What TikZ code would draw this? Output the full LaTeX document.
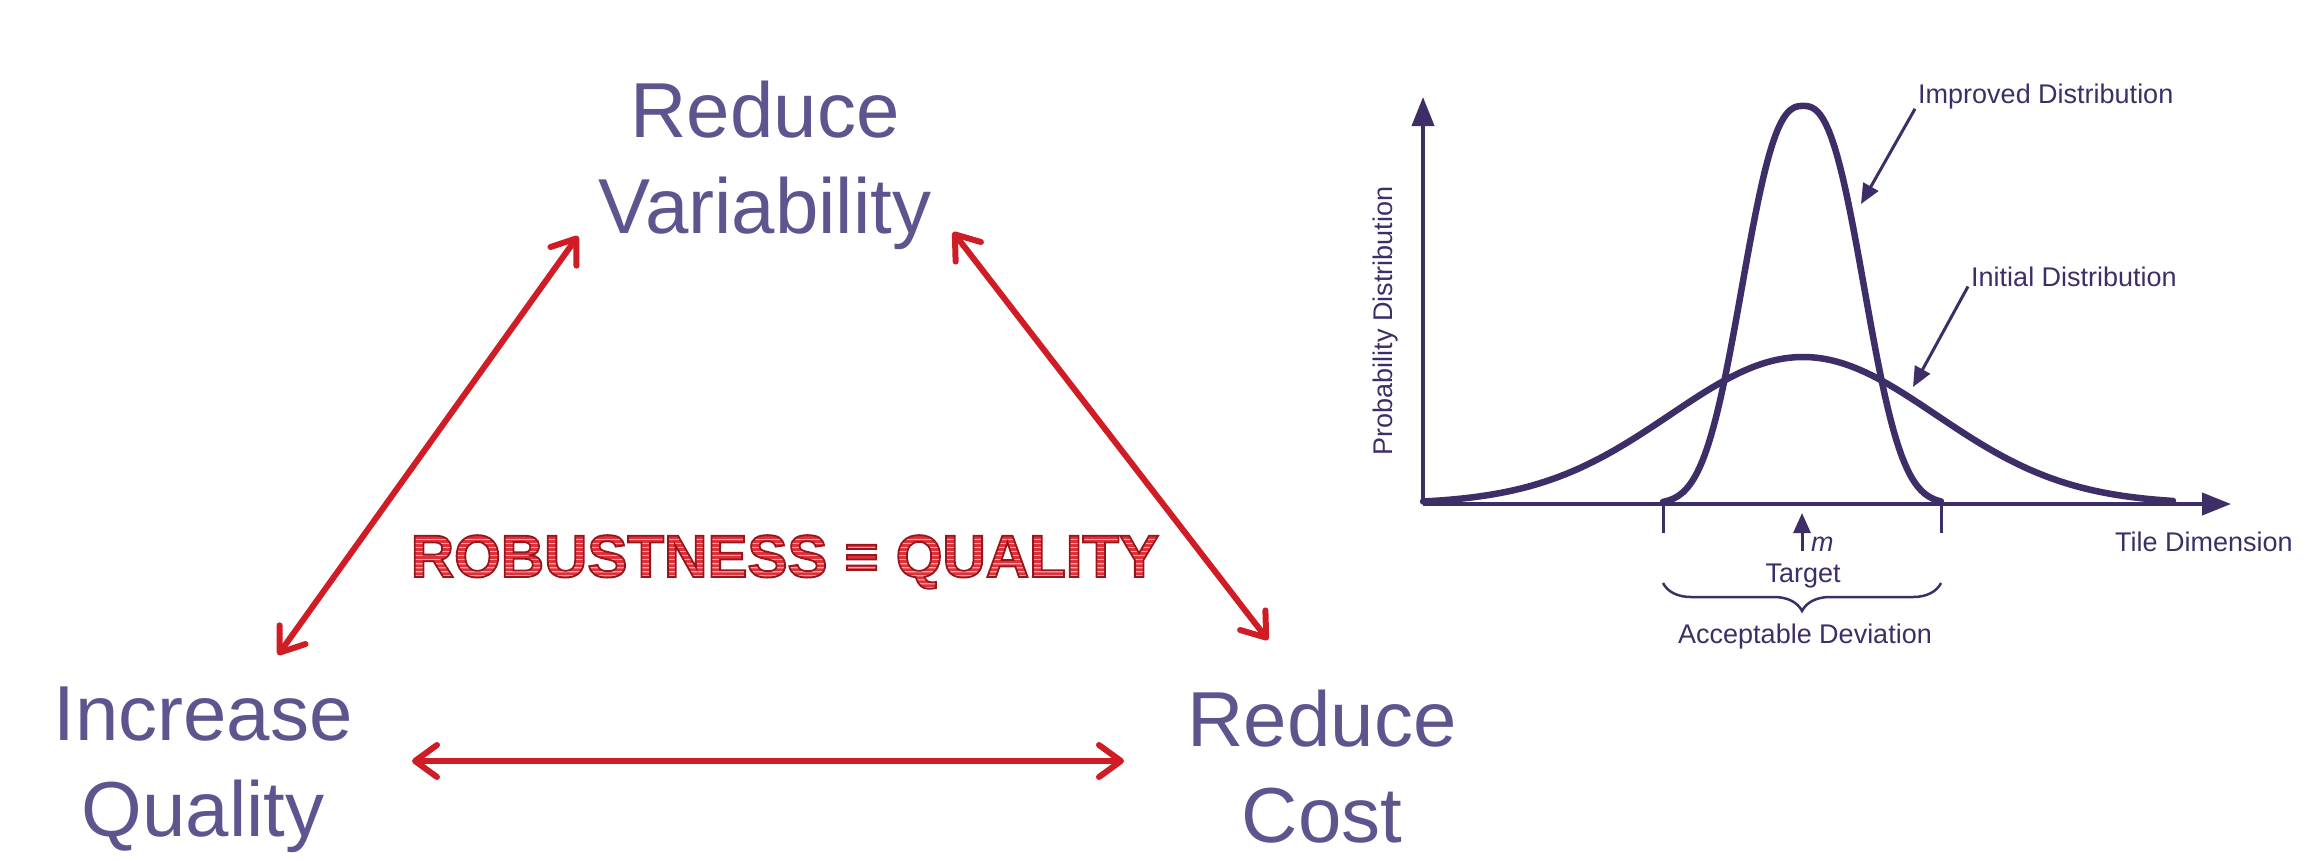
\documentclass[tikz,border=0pt]{standalone}
\usepackage{fontspec}
\setmainfont{Liberation Sans}
\usetikzlibrary{arrows.meta,decorations.pathreplacing}
\definecolor{lblpurple}{RGB}{95,84,142}
\definecolor{arrred}{RGB}{208,28,36}
\definecolor{ink}{RGB}{62,46,104}
\definecolor{rimred}{RGB}{150,22,30}
\newcommand{\robfont}{\fontsize{60}{60}\selectfont\bfseries}
\newcommand{\robtext}{ROBUSTNESS ≡ QUALITY}
\newsavebox{\robbox}
\newcommand{\robustmark}{%
  \sbox{\robbox}{\robfont\robtext}%
  \special{pdf:bcontent}\special{pdf:literal direct 7 Tr}\usebox{\robbox}\special{pdf:literal direct 0 Tr}%
  \kern-\wd\robbox
  \special{pdf:literal 0.969 0.675 0.698 rg 0 -16 800 80 re f 0.863 0.196 0.235 rg
    0 -14 800 2.7 re 0 -10 800 2.7 re 0 -6 800 2.7 re 0 -2 800 2.7 re
    0 2 800 2.7 re 0 6 800 2.7 re 0 10 800 2.7 re 0 14 800 2.7 re
    0 18 800 2.7 re 0 22 800 2.7 re 0 26 800 2.7 re 0 30 800 2.7 re
    0 34 800 2.7 re 0 38 800 2.7 re 0 42 800 2.7 re 0 46 800 2.7 re 0 50 800 2.7 re f}%
  \special{pdf:econtent}%
  \special{pdf:literal direct 1 Tr 1.8 w}\usebox{\robbox}\special{pdf:literal direct 0 Tr}}
\begin{document}
\begin{tikzpicture}[x=1pt,y=-1pt,
  lbl/.style={text=lblpurple, font=\fontsize{78}{96}\selectfont, align=center, inner sep=0pt},
  link/.style={draw=arrred, line width=6pt, {Straight Barb[length=22pt,width=32pt,round]}-{Straight Barb[length=22pt,width=32pt,round]}},
  axis/.style={draw=ink, line width=4pt, -{Triangle[length=29pt,width=22pt]}},
  curve/.style={draw=ink, line width=6.5pt, line join=round, line cap=round},
  note/.style={text=ink, font=\fontsize{27}{27}\selectfont, inner sep=0pt},
  pointer/.style={draw=ink, line width=3pt, -{Triangle[length=20pt,width=17pt]}},
  tickmark/.style={draw=ink, line width=3pt}]
\useasboundingbox (0,0) rectangle (2314,860);

% triangle labels (anchor = baseline of the last line)
\node[lbl, anchor=base] (var) at (765,233) {Reduce\\Variability};
\node[lbl, anchor=base] (qual) at (203,836) {Increase\\Quality};
\node[lbl, anchor=base] (cost) at (1322,842) {Reduce\\Cost};

\coordinate (varL) at (578,236);
\coordinate (varR) at (953,232);
\coordinate (qualT) at (278,655);
\coordinate (qualR) at (412,761);
\coordinate (costL) at (1124,761);
\coordinate (costT) at (1268,640);

\draw[link] (qualT) -- (varL);
\draw[link] (varR) -- (costT);
\draw[link] (qualR) -- (costL);

% robustness = quality
\node[text=rimred, inner sep=0pt, anchor=base] (rob) at (785,577) {\robustmark};

% chart
\coordinate (O) at (1423,504);
\coordinate (ytop) at (1423,97);
\coordinate (xend) at (2231,504);
\draw[axis] (O) -- (ytop);
\draw[axis] (O) -- (xend);
\draw[curve] plot[domain=-380:370, samples=150] ({1803+\x},{504-147*exp(-0.5*(\x/133)*(\x/133))});
\draw[curve] plot[domain=-140:138, samples=100] ({1803+\x},{504-398*exp(-(abs(\x)/74)^2.6)});
\coordinate (tickL) at (1663,533);
\coordinate (tickR) at (1941,533);
\draw[tickmark] (1663,503) -- (tickL);
\draw[tickmark] (1941,503) -- (tickR);

\node[note, anchor=base west] (imp) at (1918,103) {Improved Distribution};
\node[note, anchor=base west] (ini) at (1971,286) {Initial Distribution};
\coordinate (impTip) at (1861,204);
\coordinate (iniTip) at (1913,387);
\draw[pointer] ([xshift=-3pt]imp.south west) -- (impTip);
\draw[pointer] ([xshift=-3pt]ini.south west) -- (iniTip);

\node[note, anchor=base] (tgt) at (1803,582) {Target};
\node[note, anchor=base west, font=\fontsize{27}{27}\selectfont\itshape] (m) at (1811,551) {m};
\coordinate (mTip) at (1802,513);
\draw[pointer] ([xshift=-9pt]m.base west) -- (mTip);

\draw[ink, line width=2.5pt, decorate, decoration={brace, amplitude=28pt}] (tickR |- 0,583) -- (tickL |- 0,583);
\node[note, anchor=base] (dev) at (1805,643) {Acceptable Deviation};
\node[note, anchor=base west] (tile) at (2115,551) {Tile Dimension};
\node[note, anchor=base, rotate=90] (prob) at (1392,321) {Probability Distribution};
\end{tikzpicture}
\end{document}
